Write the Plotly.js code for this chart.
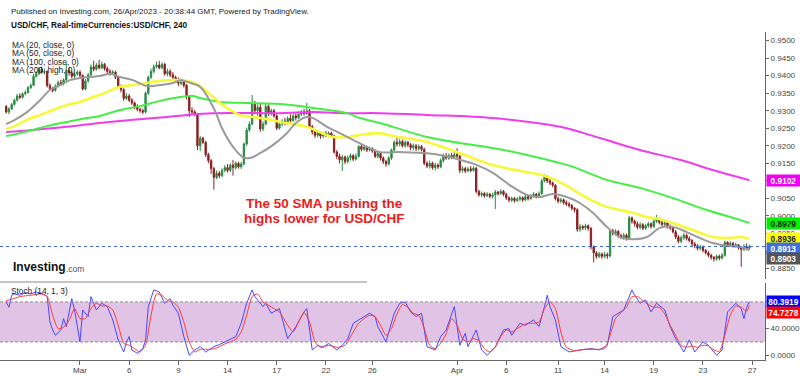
<!DOCTYPE html>
<html><head><meta charset="utf-8">
<script src="https://cdn.plot.ly/plotly-3.0.1.min.js"></script>
<style>html,body{margin:0;padding:0;background:#fff}#chart{width:800px;height:376px}</style>
</head><body><div id="chart"></div>
<script>
// ---------- DATA (USD/CHF, 240 min bars, ~22 Feb – 26 Apr 2023) ----------
const open = [
.9312,.9296,.9305,.9318,.9330,.9342,.9338,.9348,.9352,.9366,
.9372,.9398,.9405,.9418,.9410,.9412,.9372,.9362,.9358,.9370,
.9380,.9376,.9388,.9415,.9408,.9398,.9405,.9410,.9400,.9362,
.9385,.9402,.9425,.9418,.9430,.9422,.9432,.9420,.9412,.9408,
.9410,.9395,.9370,.9360,.9335,.9342,.9330,.9322,.9310,.9304,
.9300,.9296,.9350,.9395,.9412,.9425,.9430,.9422,.9432,.9405,
.9412,.9402,.9395,.9390,.9378,.9385,.9372,.9340,.9300,.9296,
.9290,.9200,.9222,.9210,.9175,.9158,.9135,.9110,.9122,.9115,
.9130,.9138,.9130,.9145,.9138,.9150,.9140,.9148,.9205,.9245,
.9262,.9322,.9300,.9310,.9248,.9262,.9312,.9292,.9300,.9285,
.9250,.9262,.9270,.9265,.9278,.9272,.9285,.9280,.9290,.9296,
.9292,.9300,.9255,.9240,.9230,.9238,.9228,.9235,.9230,.9236,
.9228,.9182,.9170,.9160,.9168,.9155,.9165,.9172,.9162,.9170,
.9198,.9190,.9196,.9188,.9192,.9185,.9170,.9178,.9165,.9155,
.9148,.9165,.9188,.9210,.9205,.9212,.9200,.9210,.9203,.9195,
.9200,.9192,.9198,.9190,.9150,.9142,.9150,.9138,.9145,.9140,
.9158,.9172,.9165,.9172,.9168,.9175,.9170,.9130,.9135,.9128,
.9134,.9130,.9136,.9070,.9060,.9064,.9058,.9062,.9056,.9060,
.9068,.9064,.9070,.9062,.9052,.9045,.9050,.9044,.9048,.9052,
.9046,.9055,.9050,.9058,.9062,.9056,.9064,.9100,.9112,.9100,
.9094,.9088,.9050,.9042,.9046,.9038,.9034,.9030,.9022,.9018,
.8962,.8970,.8966,.8972,.8965,.8912,.8895,.8885,.8892,.8885,
.8890,.8886,.8958,.8950,.8956,.8944,.8940,.8945,.8936,.8995,
.8985,.8978,.8968,.8975,.8965,.8972,.8978,.8970,.8985,.8992,
.8982,.8976,.8980,.8970,.8966,.8955,.8940,.8928,.8938,.8945,
.8936,.8930,.8920,.8915,.8908,.8912,.8902,.8895,.8888,.8882,
.8878,.8885,.8880,.8888,.8925,.8918,.8922,.8915,.8918,.8910,
.8905,.8912,.8908];
const close = [
.9296,.9305,.9318,.9330,.9342,.9338,.9348,.9352,.9366,.9372,
.9398,.9405,.9418,.9410,.9412,.9372,.9362,.9358,.9370,.9380,
.9376,.9388,.9415,.9408,.9398,.9405,.9410,.9400,.9362,.9385,
.9402,.9425,.9418,.9430,.9422,.9432,.9420,.9412,.9408,.9410,
.9395,.9370,.9360,.9335,.9342,.9330,.9322,.9310,.9304,.9300,
.9296,.9350,.9395,.9412,.9425,.9430,.9422,.9432,.9405,.9412,
.9402,.9395,.9390,.9378,.9385,.9372,.9340,.9300,.9296,.9290,
.9200,.9222,.9210,.9175,.9158,.9135,.9110,.9122,.9115,.9130,
.9138,.9130,.9145,.9138,.9150,.9140,.9148,.9205,.9245,.9262,
.9322,.9300,.9310,.9248,.9262,.9312,.9292,.9300,.9285,.9250,
.9262,.9270,.9265,.9278,.9272,.9285,.9280,.9290,.9296,.9292,
.9300,.9255,.9240,.9230,.9238,.9228,.9235,.9230,.9236,.9228,
.9182,.9170,.9160,.9168,.9155,.9165,.9172,.9162,.9170,.9198,
.9190,.9196,.9188,.9192,.9185,.9170,.9178,.9165,.9155,.9148,
.9165,.9188,.9210,.9205,.9212,.9200,.9210,.9203,.9195,.9200,
.9192,.9198,.9190,.9150,.9142,.9150,.9138,.9145,.9140,.9158,
.9172,.9165,.9172,.9168,.9175,.9170,.9130,.9135,.9128,.9134,
.9130,.9136,.9070,.9060,.9064,.9058,.9062,.9056,.9060,.9068,
.9064,.9070,.9062,.9052,.9045,.9050,.9044,.9048,.9052,.9046,
.9055,.9050,.9058,.9062,.9056,.9064,.9100,.9112,.9100,.9094,
.9088,.9050,.9042,.9046,.9038,.9034,.9030,.9022,.9018,.8962,
.8970,.8966,.8972,.8965,.8912,.8895,.8885,.8892,.8885,.8890,
.8886,.8958,.8950,.8956,.8944,.8940,.8945,.8936,.8995,.8985,
.8978,.8968,.8975,.8965,.8972,.8978,.8970,.8985,.8992,.8982,
.8976,.8980,.8970,.8966,.8955,.8940,.8928,.8938,.8945,.8936,
.8930,.8920,.8915,.8908,.8912,.8902,.8895,.8888,.8882,.8878,
.8885,.8880,.8888,.8925,.8918,.8922,.8915,.8918,.8910,.8905,
.8912,.8908,.8913];
const high = [
.9316,.9310,.9322,.9335,.9348,.9350,.9352,.9358,.9370,.9378,
.9405,.9412,.9424,.9426,.9420,.9415,.9378,.9368,.9375,.9386,
.9388,.9392,.9436,.9422,.9414,.9412,.9416,.9415,.9404,.9390,
.9408,.9432,.9442,.9436,.9445,.9440,.9436,.9426,.9418,.9416,
.9414,.9398,.9375,.9364,.9350,.9348,.9336,.9326,.9318,.9308,
.9306,.9355,.9400,.9420,.9432,.9440,.9442,.9438,.9436,.9420,
.9418,.9410,.9400,.9394,.9392,.9390,.9376,.9345,.9310,.9302,
.9294,.9228,.9226,.9214,.9180,.9162,.9140,.9130,.9128,.9136,
.9145,.9148,.9150,.9160,.9156,.9155,.9154,.9210,.9252,.9270,
.9345,.9328,.9318,.9320,.9270,.9322,.9318,.9306,.9305,.9290,
.9268,.9276,.9280,.9284,.9290,.9292,.9295,.9298,.9302,.9305,
.9322,.9305,.9260,.9246,.9244,.9242,.9240,.9242,.9241,.9240,
.9232,.9188,.9178,.9174,.9172,.9172,.9178,.9176,.9178,.9202,
.9204,.9202,.9200,.9198,.9196,.9190,.9185,.9182,.9170,.9160,
.9170,.9192,.9216,.9225,.9220,.9218,.9215,.9214,.9208,.9206,
.9205,.9204,.9202,.9194,.9156,.9158,.9155,.9152,.9150,.9164,
.9178,.9180,.9178,.9180,.9182,.9193,.9174,.9142,.9140,.9140,
.9142,.9142,.9140,.9075,.9070,.9068,.9068,.9066,.9066,.9074,
.9072,.9076,.9074,.9066,.9056,.9055,.9054,.9054,.9058,.9056,
.9060,.9060,.9062,.9068,.9066,.9070,.9106,.9118,.9116,.9106,
.9098,.9090,.9055,.9052,.9050,.9044,.9040,.9034,.9026,.9022,
.8978,.8975,.8978,.8976,.8968,.8916,.8900,.8898,.8896,.8898,
.8896,.8962,.8964,.8962,.8960,.8950,.8952,.8950,.9000,.8998,
.8990,.8984,.8982,.8980,.8978,.8984,.8982,.8992,.9003,.8996,
.8988,.8986,.8984,.8976,.8970,.8960,.8946,.8944,.8952,.8950,
.8942,.8934,.8926,.8920,.8918,.8916,.8906,.8900,.8892,.8886,
.8890,.8890,.8894,.8930,.8928,.8928,.8926,.8924,.8920,.8914,
.8920,.8922,.8918];
const low = [
.9292,.9290,.9302,.9315,.9326,.9333,.9335,.9344,.9349,.9362,
.9370,.9394,.9401,.9405,.9404,.9366,.9356,.9352,.9354,.9366,
.9370,.9372,.9385,.9400,.9392,.9393,.9400,.9395,.9358,.9358,
.9380,.9398,.9412,.9414,.9418,.9418,.9414,.9405,.9400,.9402,
.9390,.9365,.9352,.9328,.9330,.9325,.9316,.9304,.9298,.9294,
.9290,.9292,.9345,.9390,.9406,.9420,.9418,.9418,.9400,.9398,
.9396,.9390,.9382,.9370,.9372,.9366,.9332,.9282,.9288,.9284,
.9188,.9185,.9205,.9168,.9150,.9120,.9075,.9105,.9108,.9110,
.9125,.9124,.9125,.9115,.9132,.9135,.9134,.9144,.9200,.9240,
.9258,.9292,.9285,.9240,.9242,.9258,.9285,.9286,.9280,.9245,
.9246,.9255,.9258,.9260,.9266,.9268,.9272,.9276,.9284,.9286,
.9288,.9248,.9232,.9222,.9224,.9220,.9222,.9225,.9224,.9222,
.9178,.9162,.9150,.9128,.9148,.9150,.9158,.9156,.9158,.9166,
.9184,.9185,.9182,.9184,.9180,.9165,.9164,.9158,.9148,.9140,
.9144,.9160,.9184,.9198,.9198,.9195,.9195,.9196,.9188,.9188,
.9185,.9186,.9184,.9145,.9136,.9135,.9132,.9130,.9134,.9136,
.9152,.9160,.9160,.9162,.9164,.9165,.9122,.9124,.9122,.9124,
.9125,.9126,.9064,.9055,.9054,.9052,.9054,.9050,.9050,.9020,
.9058,.9060,.9056,.9046,.9040,.9040,.9038,.9040,.9042,.9040,
.9042,.9044,.9046,.9052,.9050,.9052,.9060,.9096,.9094,.9088,
.9082,.9044,.9036,.9036,.9032,.9028,.9024,.9016,.9010,.8955,
.8955,.8960,.8960,.8958,.8905,.8868,.8878,.8880,.8878,.8880,
.8878,.8882,.8944,.8944,.8938,.8934,.8932,.8930,.8932,.8978,
.8970,.8962,.8962,.8960,.8960,.8966,.8964,.8966,.8980,.8976,
.8970,.8970,.8964,.8960,.8950,.8934,.8922,.8922,.8932,.8930,
.8925,.8914,.8908,.8902,.8902,.8896,.8890,.8882,.8875,.8870,
.8872,.8874,.8876,.8884,.8912,.8912,.8910,.8910,.8904,.8855,
.8900,.8902,.8904];

// moving averages (bar index, value)
const ma20Bars = [0,2.5,7.6,12.4,16,19.7,23.3,27,30.7,34.3,38,41.6,46.4,51.5,56.3,61,63.6,66.2,70.9,75.7,79.3,83,86.6,89.2,92.9,97.6,102.7,106.4,110,112.3,117.4,122.1,126.9,132,136.8,144,154,160.6,166,172.3,178.1,184.3,190.6,195.3,200,205.2,209.9,214.7,219.8,224.6,229.3,234.5,239.2,244,249.1,253.9,258.6,263.7,268.5,272];
const ma20Values = [0.9262,0.9271,0.9296,0.9330,0.9359,0.9373,0.9387,0.9393,0.9396,0.9399,0.9405,0.9396,0.9387,0.9370,0.9373,0.9379,0.9387,0.9382,0.9368,0.9311,0.9245,0.9197,0.9168,0.9165,0.9179,0.9202,0.9236,0.9268,0.9282,0.9279,0.9254,0.9236,0.9217,0.9197,0.9182,0.9182,0.9179,0.9171,0.9160,0.9145,0.9123,0.9088,0.9060,0.9054,0.9063,0.9054,0.9037,0.9009,0.8969,0.8940,0.8934,0.8940,0.8966,0.8969,0.8954,0.8937,0.8923,0.8915,0.8912,0.8903];
const ma50Bars = [0,2.5,7.6,12.4,17.1,22.2,27,31.8,36.9,41.6,46.4,51.5,56.3,61,66.2,70.9,75.7,80.8,85.5,90.3,95.4,100.2,104.9,110,114.8,119.6,124.7,129.4,136.8,141.5,154,166,178.1,190.6,195.9,200.3,205.4,210,214.7,219.8,224.6,229.3,234.5,239.2,244,249.1,253.9,258.6,263.7,268.5,272];
const ma50Values = [0.9248,0.9254,0.9274,0.9288,0.9302,0.9316,0.9325,0.9339,0.9353,0.9368,0.9373,0.9379,0.9385,0.9387,0.9385,0.9370,0.9339,0.9308,0.9288,0.9282,0.9276,0.9268,0.9262,0.9254,0.9239,0.9225,0.9225,0.9231,0.9236,0.9228,0.9211,0.9179,0.9145,0.9125,0.9117,0.9105,0.9085,0.9063,0.9043,0.9026,0.9017,0.9009,0.8997,0.8991,0.8980,0.8966,0.8952,0.8940,0.8937,0.8940,0.8936];
const ma100Bars = [0,5,9.8,14.9,22.2,29.6,34.3,41.6,48.9,56.3,63.6,68.3,70.9,78.2,88.1,100.2,112.3,124.7,129.4,136.8,141.5,154,166,178.1,190.6,202.6,207.4,219.8,231.9,244,256.4,268.5,272];
const ma100Values = [0.9228,0.9236,0.9245,0.9256,0.9268,0.9279,0.9285,0.9302,0.9313,0.9328,0.9339,0.9342,0.9336,0.9325,0.9322,0.9319,0.9308,0.9293,0.9279,0.9265,0.9254,0.9225,0.9208,0.9194,0.9174,0.9151,0.9140,0.9103,0.9080,0.9051,0.9017,0.8989,0.8980];
const ma200Bars = [0,9.8,22.2,34.3,46.4,58.8,66.2,75.7,100.2,112.3,124.7,136.8,154,178.1,202.6,217.3,231.9,246.5,258.6,272];
const ma200Values = [0.9239,0.9245,0.9254,0.9265,0.9274,0.9282,0.9288,0.9293,0.9293,0.9296,0.9293,0.9293,0.9288,0.9279,0.9254,0.9222,0.9188,0.9160,0.9131,0.9102];

// Stochastic (14,1,3)
const stochKBars = [0,1,2,3,5,7,9,11,13,15,16,17,18,20,21,22,24,25,27,28,30,31,32,33,35,37,39,41,43,44,45,46,48,50,51,52,54,56,58,60,61,63,65,67,69,71,73,75,76,78,80,82,84,86,88,90,91,94,95,97,100,103,106,109,110,112,114,116,118,121,123,125,127,129,131,133,135,136,139,142,144,146,148,150,152,154,157,159,161,164,166,168,169,172,174,176,179,182,184,185,188,190,193,195,197,198,199,201,203,206,210,214,217,220,222,224,226,227,229,230,232,234,236,238,241,243,245,248,250,252,255,257,260,262,264,267,269,270,271,272];
const stochKValues = [80,72,90,92,90,94,92,95,93,88,50,38,30,38,55,43,85,68,20,68,58,88,78,68,78,73,53,23,5,20,28,8,3,10,23,73,98,95,78,85,75,63,28,0,8,13,5,10,13,16,20,24,28,48,78,98,88,73,78,63,70,25,43,65,70,8,15,12,18,8,15,25,48,53,58,63,58,43,20,63,78,80,65,58,63,13,8,28,38,73,15,33,13,38,8,0,13,38,40,30,48,45,53,43,73,90,73,53,13,5,8,10,8,15,58,63,68,78,98,90,78,83,65,78,68,43,25,5,23,5,20,15,0,8,65,78,70,55,72,80.3919];
const stochDBars = [0,2,5,9,13,15,17,19,21,23,25,27,29,31,33,35,37,39,41,43,45,47,49,51,53,55,57,59,61,63,65,67,69,71,73,75,77,80,84,86,88,90,92,94,96,98,100,103,105,107,109,111,113,115,118,121,124,127,129,131,133,135,137,139,141,143,145,147,149,151,153,155,157,159,161,163,165,167,169,171,173,175,177,179,181,183,185,187,189,191,193,195,197,199,201,203,205,208,212,216,219,221,223,225,227,229,231,233,235,237,239,241,243,245,247,249,251,253,255,257,259,261,263,265,267,269,271,272];
const stochDValues = [82,84,88,90,92,88,60,40,42,52,70,55,55,70,78,74,74,68,45,18,15,10,5,15,60,92,90,82,80,72,50,20,5,9,9,9,11,17,24,35,60,88,92,80,75,70,65,45,35,50,64,50,20,12,15,12,15,35,48,55,60,58,45,30,40,62,76,72,63,60,40,15,10,18,32,55,45,25,20,25,22,10,5,12,28,38,35,40,45,48,48,50,70,80,70,35,12,7,9,9,10,30,55,64,72,88,88,82,76,72,72,62,45,30,15,12,14,12,15,14,8,6,30,60,74,72,66,74.7278];

// x-axis tick labels (bar index where each label sits)
const tickBars = [27,45,63,81,99,117,134,165,183,202,219,237,255,273];
const tickLabels = ['Mar','6','9','14','17','22','26','Apr','6','11','14','19','23','27'];

// price-scale ticks (labels hidden behind the value tags are left blank)
const priceTicks = [0.885,0.890,0.895,0.900,0.905,0.910,0.915,0.920,0.925,0.930,0.935,0.940,0.945,0.950];
const priceTickText = ['0.8850','','0.8950','0.9000','0.9050','','0.9150','0.9200','0.9250','0.9300','0.9350','0.9400','0.9450','0.9500'];
const stochTicks = [0, 40, 80];
const stochTickText = ['0.0000', '40.0000', ''];

// last values shown in the price scale
const lastMA200 = 0.9102, lastMA100 = 0.8979, lastMA50 = 0.8936, lastPrice = 0.8913, lastMA20 = 0.8903;
const lastK = 80.3919, lastD = 74.7278;

// ---------- LAYOUT ----------
const W = 800, H = 376;
const M = {l: 0, r: 35, t: 32, b: 16};
const plotW = W - M.l - M.r, plotH = H - M.t - M.b;
const px = x => x / plotW;
const py = y => (H - M.b - y) / plotH;
const SANS = "'Liberation Sans', Arial, sans-serif";

const barX = close.map((_, i) => i);

const traces = [
  {type: 'candlestick', x: barX, open, high, low, close, xaxis: 'x', yaxis: 'y',
   increasing: {line: {color: '#2b8c45', width: 1}, fillcolor: '#1d8a3c'},
   decreasing: {line: {color: '#8c2020', width: 1}, fillcolor: '#8c1c1c'},
   whiskerwidth: 0, hoverinfo: 'skip', showlegend: false},
  {type: 'scatter', mode: 'lines', x: ma200Bars, y: ma200Values, yaxis: 'y',
   line: {color: '#f03cf0', width: 2, shape: 'spline', smoothing: 1}, hoverinfo: 'skip'},
  {type: 'scatter', mode: 'lines', x: ma100Bars, y: ma100Values, yaxis: 'y',
   line: {color: '#44ee44', width: 2, shape: 'spline', smoothing: 1}, hoverinfo: 'skip'},
  {type: 'scatter', mode: 'lines', x: ma50Bars, y: ma50Values, yaxis: 'y',
   line: {color: '#f8f83a', width: 2.6, shape: 'spline', smoothing: 1}, hoverinfo: 'skip'},
  {type: 'scatter', mode: 'lines', x: ma20Bars, y: ma20Values, yaxis: 'y',
   line: {color: '#9a9a9a', width: 2, shape: 'spline', smoothing: 1}, hoverinfo: 'skip'},
  {type: 'scatter', mode: 'lines', x: stochKBars, y: stochKValues, yaxis: 'y2',
   line: {color: '#4848ff', width: 1}, hoverinfo: 'skip'},
  {type: 'scatter', mode: 'lines', x: stochDBars, y: stochDValues, yaxis: 'y2',
   line: {color: '#ff3a3a', width: 1, shape: 'spline', smoothing: 0.6}, hoverinfo: 'skip'}
];

function txt(text, xPix, yPix, opts) {
  return Object.assign({text, xref: 'paper', yref: 'paper', x: px(xPix), y: py(yPix),
    xanchor: 'left', yanchor: 'middle', showarrow: false,
    font: {family: SANS, size: 8.3, color: '#222'}}, opts || {});
}
function tag(val, yref, bg, fg, shift) {
  return {text: '<b>' + val.toFixed(4) + '</b>', xref: 'paper', yref, x: 1, y: val,
    xanchor: 'left', yanchor: 'middle', xshift: 1, yshift: shift || 0, showarrow: false,
    bgcolor: bg, width: 33, height: 11, borderpad: 0, align: 'center',
    font: {family: SANS, size: 8.3, color: fg}};
}

const annotations = [
  txt('Published on Investing.com, 26/Apr/2023 - 20:38:44 GMT, Powered by TradingView.', 9, 11, {font: {family: SANS, size: 8, color: '#222'}}),
  txt('<b>USD/CHF, Real-timeCurrencies:USD/CHF, 240</b>', 9, 25, {font: {family: SANS, size: 8.2, color: '#111'}}),
  txt('MA (20, close, 0)', 10, 45),
  txt('MA (50, close, 0)', 10, 53.3),
  txt('MA (100, close, 0)', 10, 61.6),
  txt('MA (200, high, 0)', 10, 70),
  txt('<b>The 50 SMA pushing the</b>', 324, 203, {xanchor: 'center', font: {family: SANS, size: 13.5, color: '#ea1c1c'}}),
  txt('<b>highs lower for USD/CHF</b>', 324, 218, {xanchor: 'center', font: {family: SANS, size: 13.5, color: '#ea1c1c'}}),
  txt('<b>Investing</b>', 11, 267, {font: {family: SANS, size: 12, color: '#111'}}),
  txt('.com', 64, 269, {font: {family: SANS, size: 8.5, color: '#555'}}),
  txt('Stoch (14, 1, 3)', 9, 291),
  tag(lastMA200, 'y', '#f000f0', '#ffffff', 0),
  tag(lastMA100, 'y', '#00f000', '#222222', 0),
  tag(lastMA50, 'y', '#ffff00', '#222222', 0),
  tag(lastPrice, 'y', '#3f6fe0', '#ffffff', -1.5),
  tag(lastMA20, 'y', '#555555', '#ffffff', -8),
  tag(lastK, 'y2', '#0000ff', '#ffffff', 0),
  tag(lastD, 'y2', '#ff0000', '#ffffff', -7.5)
];

const shapes = [
  {type: 'rect', xref: 'paper', yref: 'y2', x0: 0, x1: 1, y0: 20, y1: 80,
   fillcolor: '#e1c3e5', line: {width: 0}, layer: 'below'},
  {type: 'line', xref: 'paper', yref: 'y2', x0: 0, x1: 1, y0: 80, y1: 80,
   line: {color: '#8a8a8a', width: 1, dash: '3px,2px'}},
  {type: 'line', xref: 'paper', yref: 'y2', x0: 0, x1: 1, y0: 20, y1: 20,
   line: {color: '#8a8a8a', width: 1, dash: '3px,2px'}},
  {type: 'line', xref: 'paper', yref: 'paper', x0: 0, x1: px(367), y0: py(282), y1: py(282),
   line: {color: '#c4c4c4', width: 2}},
  {type: 'line', xref: 'paper', yref: 'y', x0: 0, x1: 1, y0: lastPrice, y1: lastPrice,
   line: {color: '#4468d8', width: 1, dash: 'dot'}}
];

const axisCommon = {showgrid: false, zeroline: false, showline: true, linecolor: '#666', linewidth: 1,
  ticks: 'outside', tickcolor: '#666', fixedrange: true,
  tickfont: {family: SANS, size: 8, color: '#444'}};

const layout = {
  width: W, height: H, margin: M, showlegend: false,
  paper_bgcolor: '#ffffff', plot_bgcolor: '#ffffff',
  xaxis: Object.assign({}, axisCommon, {anchor: 'y2', range: [-2.27, 277.7],
    tickmode: 'array', tickvals: tickBars, ticktext: tickLabels, ticklen: 4,
    ticklabelstandoff: -2, rangeslider: {visible: false}}),
  yaxis: Object.assign({}, axisCommon, {domain: [0.247, 1], range: [0.882051, 0.952422],
    side: 'right', anchor: 'x', tickmode: 'array', tickvals: priceTicks, ticktext: priceTickText,
    ticklen: 3}),
  yaxis2: Object.assign({}, axisCommon, {domain: [0, 0.235], range: [-7.05, 108.5],
    side: 'right', anchor: 'x', tickmode: 'array', tickvals: stochTicks,
    ticktext: stochTickText, ticklen: 3}),
  annotations, shapes
};

Plotly.newPlot('chart', traces, layout, {staticPlot: true, displayModeBar: false});
</script>
</body></html>
